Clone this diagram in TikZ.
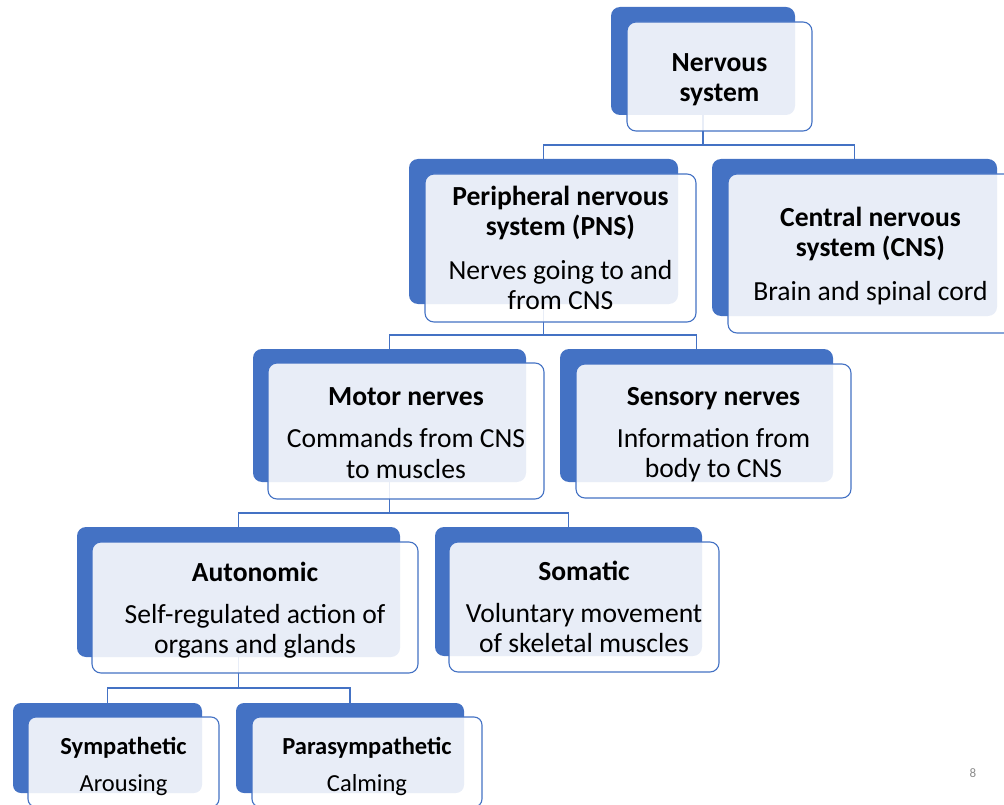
\documentclass[tikz,border=0pt]{standalone}
\usepackage{fontspec}
\setmainfont{Carlito}
\definecolor{accent}{HTML}{4472C4}
\definecolor{pagegray}{HTML}{8C8C8C}
\tikzset{
  backbox/.style={fill=accent, draw=none, rounded corners=9pt, inner sep=0pt},
  frontbox/.style={draw=accent, line width=1.1pt, fill=white, fill opacity=0.88,
    rounded corners=9pt, inner sep=0pt},
  txt/.style={align=center, inner sep=0pt, text=black, font=\fontsize{27.6}{30.3}\selectfont},
  smalltxt/.style={txt, font=\fontsize{24.5}{27}\selectfont},
  conn/.style={draw=accent, line width=1.2pt},
}
\begin{document}
\begin{tikzpicture}[x=1pt,y=-1pt]
\useasboundingbox (0,0) rectangle (1004,805);
\clip (0,0) rectangle (1004,805);
% back boxes
\node[backbox, minimum width=184pt, minimum height=108pt] (nB) at (703,61) {};
\node[backbox, minimum width=269pt, minimum height=145pt] (pnsB) at (543.5,231.5) {};
\node[backbox, minimum width=285pt, minimum height=157pt] (cnsB) at (854.5,237.5) {};
\node[backbox, minimum width=273pt, minimum height=133pt] (motB) at (389.5,415.5) {};
\node[backbox, minimum width=273pt, minimum height=133pt] (senB) at (696.5,415.5) {};
\node[backbox, minimum width=323pt, minimum height=130pt] (autB) at (238.5,592) {};
\node[backbox, minimum width=267pt, minimum height=129pt] (somB) at (568.5,591.5) {};
\node[backbox, minimum width=189pt, minimum height=90pt, rounded corners=8pt] (symB) at (107.5,748) {};
\node[backbox, minimum width=228pt, minimum height=90pt, rounded corners=8pt] (parB) at (350,748) {};
% connectors
\coordinate (b1) at (nB.south |- 0,145);
\coordinate (b2) at (pnsB.south |- 0,335);
\coordinate (b3) at (motB.south |- 0,513);
\coordinate (b4) at (autB.south |- 0,688);
\draw[conn] (nB.south) -- (b1);
\draw[conn] (pnsB.north) |- (b1) -| (cnsB.north);
\draw[conn] (pnsB.south) -- (b2);
\draw[conn] (motB.north) |- (b2) -| (senB.north);
\draw[conn] (motB.south) -- (b3);
\draw[conn] (autB.north) |- (b3) -| (somB.north);
\draw[conn] (autB.south) -- (b4);
\draw[conn] (symB.north) |- (b4) -| (parB.north);
% front boxes
\node[frontbox, minimum width=185pt, minimum height=109pt] (nF) at (719.5,76.5) {};
\node[frontbox, minimum width=271pt, minimum height=148pt] (pnsF) at (560.5,248) {};
\node[frontbox, minimum width=285pt, minimum height=159pt] (cnsF) at (870.5,253.5) {};
\node[frontbox, minimum width=276pt, minimum height=136pt] (motF) at (406,431) {};
\node[frontbox, minimum width=275pt, minimum height=134pt] (senF) at (713.5,431) {};
\node[frontbox, minimum width=326pt, minimum height=131pt] (autF) at (255,607.5) {};
\node[frontbox, minimum width=270pt, minimum height=130pt] (somF) at (584,607) {};
\node[frontbox, minimum width=191pt, minimum height=90pt, rounded corners=8pt] (symF) at (123.5,762) {};
\node[frontbox, minimum width=230pt, minimum height=90pt, rounded corners=8pt] (parF) at (367,762) {};
% texts
\node[txt, yshift=-3pt] (nT) at (nF) {\textbf{Nervous}\\\textbf{system}};
\node[txt] (pnsT) at (pnsF)
  {\textbf{Peripheral nervous}\\\textbf{system (PNS)}\\[13.7pt]Nerves going to and\\from CNS};
\node[txt, yshift=-2.5pt] (cnsT) at (cnsF)
  {\textbf{Central nervous}\\\textbf{system (CNS)}\\[13.7pt]Brain and spinal cord};
\node[txt, yshift=-2pt] (motT) at (motF)
  {\textbf{Motor nerves}\\[11.7pt]Commands from CNS\\to muscles};
\node[txt, yshift=-4pt] (senT) at (senF)
  {\textbf{Sensory nerves}\\[11.7pt]Information from\\body to CNS};
\node[txt, yshift=-3pt] (autT) at (autF)
  {\textbf{Autonomic}\\[11.7pt]Self-regulated action of\\organs and glands};
\node[txt] (somT) at (somF)
  {\textbf{Somatic}\\[11.7pt]Voluntary movement\\of skeletal muscles};
\node[smalltxt, yshift=-4pt] (symT) at (symF) {\textbf{Sympathetic}\\[10pt]Arousing};
\node[smalltxt, yshift=-4pt] (parT) at (parF) {\textbf{Parasympathetic}\\[10pt]Calming};
% page number
\node[text=pagegray, font=\fontsize{13}{15}\selectfont] (pg) at (973,773) {8};
\end{tikzpicture}
\end{document}
